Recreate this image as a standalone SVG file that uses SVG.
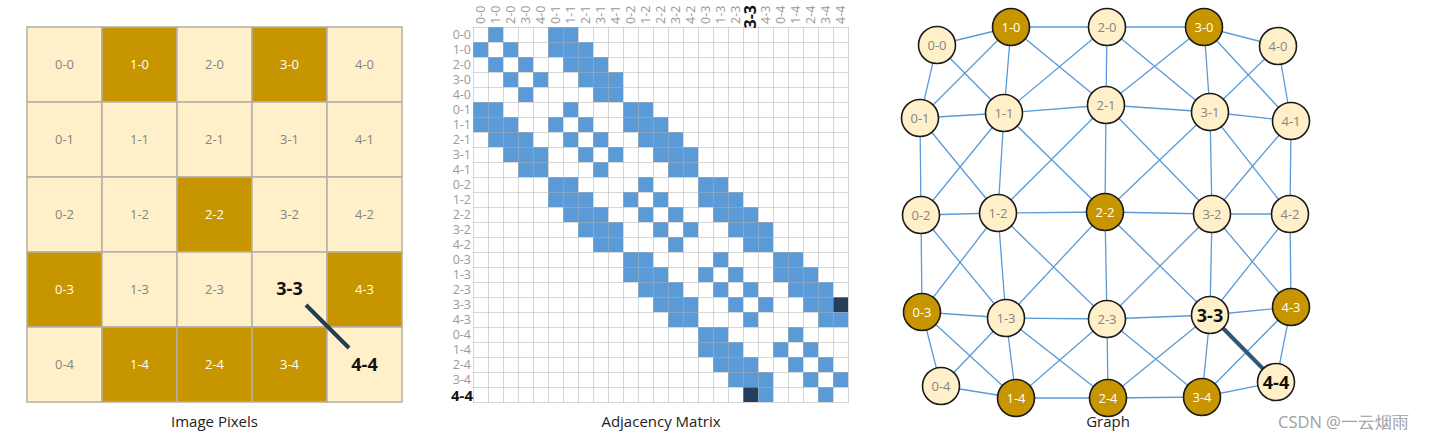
<svg xmlns="http://www.w3.org/2000/svg" xmlns:xlink="http://www.w3.org/1999/xlink" width="1429" height="440" viewBox="0 0 1429 440">
<style>
text{font-family:"Open Sans","Noto Sans","DejaVu Sans",sans-serif}
.px{stroke:#b5b0a4;stroke-width:1.5}
.lt{fill:#fff0c9}
.dk{fill:#c69500}
.tl{font-size:13px;fill:#858585;text-anchor:middle}
.tw{font-size:13px;fill:#ffffff;text-anchor:middle}
.tb{font-size:18px;font-weight:bold;fill:#111;text-anchor:middle}
.cap{font-size:15px;fill:#222;text-anchor:middle}
.ml{font-size:12.5px;fill:#9a9a9a}
.bc{fill:#5a9bd7}
.edge{fill:none;stroke:#5a9bd7;stroke-width:1.3}
.node{stroke:#1a1a1a;stroke-width:1.6}
</style>
<defs>
<g id="A" class="bc"><rect x="15" y="0" width="15" height="15"/><rect x="0" y="15" width="15" height="15"/><rect x="30" y="15" width="15" height="15"/><rect x="15" y="30" width="15" height="15"/><rect x="45" y="30" width="15" height="15"/><rect x="30" y="45" width="15" height="15"/><rect x="60" y="45" width="15" height="15"/><rect x="45" y="60" width="15" height="15"/></g>
<g id="B"><use xlink:href="#A"/><g class="bc"><rect x="0" y="0" width="15" height="15"/><rect x="15" y="15" width="15" height="15"/><rect x="30" y="30" width="15" height="15"/><rect x="45" y="45" width="15" height="15"/><rect x="60" y="60" width="15" height="15"/></g></g>
<pattern id="gl" patternUnits="userSpaceOnUse" x="473" y="27" width="15" height="15"><path d="M0 0.5H15M0.5 0V15" stroke="#b0b0b0" stroke-opacity="0.5" stroke-width="1" fill="none"/></pattern>
</defs>
<rect width="1429" height="440" fill="#ffffff"/>

<g id="pixels">
<rect class="px lt" x="27" y="27" width="75" height="75"/><rect class="px dk" x="102" y="27" width="75" height="75"/><rect class="px lt" x="177" y="27" width="75" height="75"/><rect class="px dk" x="252" y="27" width="75" height="75"/><rect class="px lt" x="327" y="27" width="75" height="75"/>
<rect class="px lt" x="27" y="102" width="75" height="75"/><rect class="px lt" x="102" y="102" width="75" height="75"/><rect class="px lt" x="177" y="102" width="75" height="75"/><rect class="px lt" x="252" y="102" width="75" height="75"/><rect class="px lt" x="327" y="102" width="75" height="75"/>
<rect class="px lt" x="27" y="177" width="75" height="75"/><rect class="px lt" x="102" y="177" width="75" height="75"/><rect class="px dk" x="177" y="177" width="75" height="75"/><rect class="px lt" x="252" y="177" width="75" height="75"/><rect class="px lt" x="327" y="177" width="75" height="75"/>
<rect class="px dk" x="27" y="252" width="75" height="75"/><rect class="px lt" x="102" y="252" width="75" height="75"/><rect class="px lt" x="177" y="252" width="75" height="75"/><rect class="px lt" x="252" y="252" width="75" height="75"/><rect class="px dk" x="327" y="252" width="75" height="75"/>
<rect class="px lt" x="27" y="327" width="75" height="75"/><rect class="px dk" x="102" y="327" width="75" height="75"/><rect class="px dk" x="177" y="327" width="75" height="75"/><rect class="px dk" x="252" y="327" width="75" height="75"/><rect class="px lt" x="327" y="327" width="75" height="75"/>
<text class="tl" x="64.5" y="69">0-0</text><text class="tw" x="139.5" y="69">1-0</text><text class="tl" x="214.5" y="69">2-0</text><text class="tw" x="289.5" y="69">3-0</text><text class="tl" x="364.5" y="69">4-0</text>
<text class="tl" x="64.5" y="144">0-1</text><text class="tl" x="139.5" y="144">1-1</text><text class="tl" x="214.5" y="144">2-1</text><text class="tl" x="289.5" y="144">3-1</text><text class="tl" x="364.5" y="144">4-1</text>
<text class="tl" x="64.5" y="219">0-2</text><text class="tl" x="139.5" y="219">1-2</text><text class="tw" x="214.5" y="219">2-2</text><text class="tl" x="289.5" y="219">3-2</text><text class="tl" x="364.5" y="219">4-2</text>
<text class="tw" x="64.5" y="294">0-3</text><text class="tl" x="139.5" y="294">1-3</text><text class="tl" x="214.5" y="294">2-3</text><text class="tb" x="289.5" y="294.5">3-3</text><text class="tw" x="364.5" y="294">4-3</text>
<text class="tl" x="64.5" y="369">0-4</text><text class="tw" x="139.5" y="369">1-4</text><text class="tw" x="214.5" y="369">2-4</text><text class="tw" x="289.5" y="369">3-4</text><text class="tb" x="364.5" y="370.5">4-4</text>
<line x1="306" y1="305" x2="349" y2="348" stroke="#233d55" stroke-width="4"/>
<text class="cap" x="214.5" y="427">Image Pixels</text>
</g>

<g id="matrix">
<use xlink:href="#A" x="473" y="27"/><use xlink:href="#A" x="548" y="102"/><use xlink:href="#A" x="623" y="177"/><use xlink:href="#A" x="698" y="252"/><use xlink:href="#A" x="773" y="327"/>
<use xlink:href="#B" x="548" y="27"/><use xlink:href="#B" x="473" y="102"/><use xlink:href="#B" x="623" y="102"/><use xlink:href="#B" x="548" y="177"/><use xlink:href="#B" x="698" y="177"/><use xlink:href="#B" x="623" y="252"/><use xlink:href="#B" x="773" y="252"/><use xlink:href="#B" x="698" y="327"/>
<rect x="833" y="297" width="15" height="15" fill="#233f5a"/>
<rect x="743" y="387" width="15" height="15" fill="#233f5a"/>
<rect x="473" y="27" width="376" height="376" fill="url(#gl)"/>
<g class="ml" text-anchor="end">
<text x="471" y="39">0-0</text><text x="471" y="54">1-0</text><text x="471" y="69">2-0</text><text x="471" y="84">3-0</text><text x="471" y="99">4-0</text>
<text x="471" y="114">0-1</text><text x="471" y="129">1-1</text><text x="471" y="144">2-1</text><text x="471" y="159">3-1</text><text x="471" y="174">4-1</text>
<text x="471" y="189">0-2</text><text x="471" y="204">1-2</text><text x="471" y="219">2-2</text><text x="471" y="234">3-2</text><text x="471" y="249">4-2</text>
<text x="471" y="264">0-3</text><text x="471" y="279">1-3</text><text x="471" y="294">2-3</text><text x="471" y="309">3-3</text><text x="471" y="324">4-3</text>
<text x="471" y="339">0-4</text><text x="471" y="354">1-4</text><text x="471" y="369">2-4</text><text x="471" y="383.5">3-4</text>
</g>
<text x="473" y="401" text-anchor="end" font-size="15px" font-weight="bold" fill="#111">4-4</text>
<g class="ml">
<text transform="translate(485,24) rotate(-90)">0-0</text><text transform="translate(500,24) rotate(-90)">1-0</text><text transform="translate(515,24) rotate(-90)">2-0</text><text transform="translate(530,24) rotate(-90)">3-0</text><text transform="translate(545,24) rotate(-90)">4-0</text>
<text transform="translate(560,24) rotate(-90)">0-1</text><text transform="translate(575,24) rotate(-90)">1-1</text><text transform="translate(590,24) rotate(-90)">2-1</text><text transform="translate(605,24) rotate(-90)">3-1</text><text transform="translate(620,24) rotate(-90)">4-1</text>
<text transform="translate(635,24) rotate(-90)">0-2</text><text transform="translate(650,24) rotate(-90)">1-2</text><text transform="translate(665,24) rotate(-90)">2-2</text><text transform="translate(680,24) rotate(-90)">3-2</text><text transform="translate(695,24) rotate(-90)">4-2</text>
<text transform="translate(710,24) rotate(-90)">0-3</text><text transform="translate(725,24) rotate(-90)">1-3</text><text transform="translate(740,24) rotate(-90)">2-3</text><text transform="translate(770,24) rotate(-90)">4-3</text>
<text transform="translate(785,24) rotate(-90)">0-4</text><text transform="translate(800,24) rotate(-90)">1-4</text><text transform="translate(815,24) rotate(-90)">2-4</text><text transform="translate(830,24) rotate(-90)">3-4</text><text transform="translate(845,24) rotate(-90)">4-4</text>
</g>
<text transform="translate(755.5,28.5) rotate(-90)" font-size="16px" font-weight="bold" fill="#111">3-3</text>
<text class="cap" x="661" y="427">Adjacency Matrix</text>
</g>

<g id="connectors">
<path class="edge" d="M937 45L1011 27L1107 27L1204 27L1278 46M920 118L1004 113L1106 105L1210 112L1291 121M921 215L998 213L1105 212L1212 214L1290 214M922 312L1006 318L1107 319L1210 315L1291 307M941 386L1016 398L1108 398L1202 397L1276 382"/>
<path class="edge" d="M937 45L920 118L921 215L922 312L941 386M1011 27L1004 113L998 213L1006 318L1016 398M1107 27L1106 105L1105 212L1107 319L1108 398M1204 27L1210 112L1212 214L1210 315L1202 397M1278 46L1291 121L1290 214L1291 307L1276 382"/>
<path class="edge" d="M937 45L1004 113L1105 212L1210 315M1011 27L1106 105L1212 214L1291 307M1107 27L1210 112L1290 214M1204 27L1291 121M920 118L998 213L1107 319L1202 397M921 215L1006 318L1108 398M922 312L1016 398"/>
<path class="edge" d="M1011 27L920 118M1107 27L1004 113L921 215M1204 27L1106 105L998 213L922 312M1278 46L1210 112L1105 212L1006 318L941 386M1291 121L1212 214L1107 319L1016 398M1290 214L1210 315L1108 398M1291 307L1202 397"/>
<path d="M1210 315L1276 382" stroke="#2d5878" stroke-width="4" fill="none"/>
</g>

<g id="n00"><circle class="node lt" cx="937" cy="45" r="18.5"/><text class="tl" x="937" y="49.5">0-0</text></g>
<g id="n10"><circle class="node dk" cx="1011" cy="27" r="18.5"/><text class="tw" x="1011" y="31.5">1-0</text></g>
<g id="n20"><circle class="node lt" cx="1107" cy="27" r="18.5"/><text class="tl" x="1107" y="31.5">2-0</text></g>
<g id="n30"><circle class="node dk" cx="1204" cy="27" r="18.5"/><text class="tw" x="1204" y="31.5">3-0</text></g>
<g id="n40"><circle class="node lt" cx="1278" cy="46" r="18.5"/><text class="tl" x="1278" y="50.5">4-0</text></g>
<g id="n01"><circle class="node lt" cx="920" cy="118" r="18.5"/><text class="tl" x="920" y="122.5">0-1</text></g>
<g id="n11"><circle class="node lt" cx="1004" cy="113" r="18.5"/><text class="tl" x="1004" y="117.5">1-1</text></g>
<g id="n21"><circle class="node lt" cx="1106" cy="105" r="18.5"/><text class="tl" x="1106" y="109.5">2-1</text></g>
<g id="n31"><circle class="node lt" cx="1210" cy="112" r="18.5"/><text class="tl" x="1210" y="116.5">3-1</text></g>
<g id="n41"><circle class="node lt" cx="1291" cy="121" r="18.5"/><text class="tl" x="1291" y="125.5">4-1</text></g>
<g id="n02"><circle class="node lt" cx="921" cy="215" r="18.5"/><text class="tl" x="921" y="219.5">0-2</text></g>
<g id="n12"><circle class="node lt" cx="998" cy="213" r="18.5"/><text class="tl" x="998" y="217.5">1-2</text></g>
<g id="n22"><circle class="node dk" cx="1105" cy="212" r="18.5"/><text class="tw" x="1105" y="216.5">2-2</text></g>
<g id="n32"><circle class="node lt" cx="1212" cy="214" r="18.5"/><text class="tl" x="1212" y="218.5">3-2</text></g>
<g id="n42"><circle class="node lt" cx="1290" cy="214" r="18.5"/><text class="tl" x="1290" y="218.5">4-2</text></g>
<g id="n03"><circle class="node dk" cx="922" cy="312" r="18.5"/><text class="tw" x="922" y="316.5">0-3</text></g>
<g id="n13"><circle class="node lt" cx="1006" cy="318" r="18.5"/><text class="tl" x="1006" y="322.5">1-3</text></g>
<g id="n23"><circle class="node lt" cx="1107" cy="319" r="18.5"/><text class="tl" x="1107" y="323.5">2-3</text></g>
<g id="n33"><circle class="node lt" cx="1210" cy="315" r="18.5"/><text class="tb" x="1210" y="321.5">3-3</text></g>
<g id="n43"><circle class="node dk" cx="1291" cy="307" r="18.5"/><text class="tw" x="1291" y="311.5">4-3</text></g>
<g id="n04"><circle class="node lt" cx="941" cy="386" r="18.5"/><text class="tl" x="941" y="390.5">0-4</text></g>
<g id="n14"><circle class="node dk" cx="1016" cy="398" r="18.5"/><text class="tw" x="1016" y="402.5">1-4</text></g>
<g id="n24"><circle class="node dk" cx="1108" cy="398" r="18.5"/><text class="tw" x="1108" y="402.5">2-4</text></g>
<g id="n34"><circle class="node dk" cx="1202" cy="397" r="18.5"/><text class="tw" x="1202" y="401.5">3-4</text></g>
<g id="n44"><circle class="node lt" cx="1276" cy="382" r="18.5"/><text class="tb" x="1276" y="388.5">4-4</text></g>
<text class="cap" x="1108" y="427">Graph</text>
<text x="1278" y="428" font-family="'Noto Sans','Noto Sans CJK SC',sans-serif" font-size="16.5px" fill="#a0a0a0">CSDN @一云烟雨</text>
</svg>
